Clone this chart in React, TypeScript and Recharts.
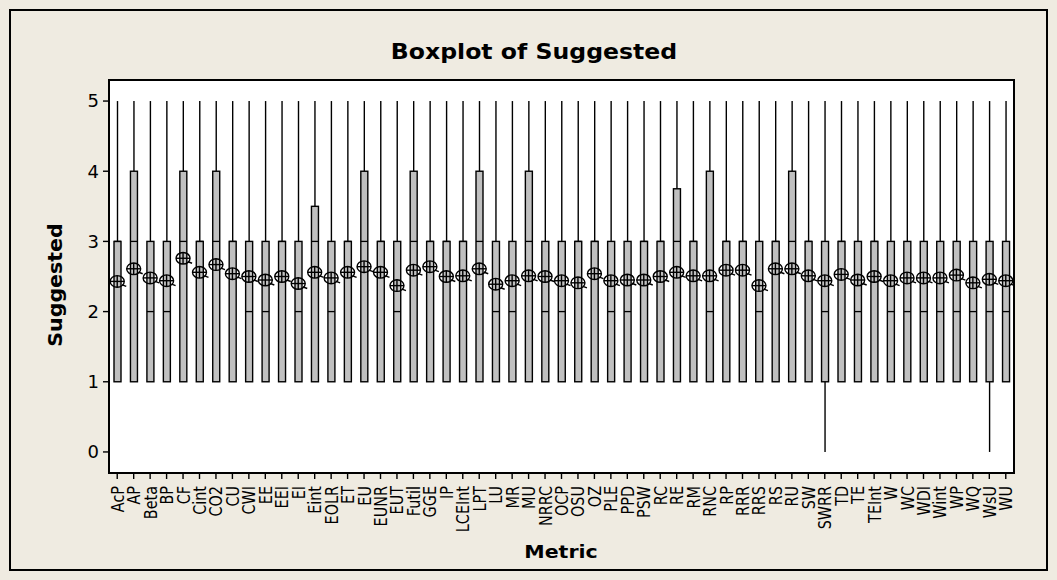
import React from 'react';
import { ComposedChart, Bar, Scatter, XAxis, YAxis } from 'recharts';

const metrics = [
  'AcP', 'AP', 'Beta', 'BP', 'CF', 'Cint', 'CO2', 'CU', 'CWI', 'EE', 'EEI', 'EI', 'Eint', 'EOLR',
  'ET', 'EU', 'EUNR', 'EUT', 'Futil', 'GGE', 'IP', 'LCEInt', 'LPT', 'LU', 'MR', 'MU', 'NRRC',
  'OCP', 'OSU', 'OZ', 'PLE', 'PPD', 'PSW', 'RC', 'RE', 'RM', 'RNC', 'RP', 'RRR', 'RRS', 'RS',
  'RU', 'SW', 'SWRR', 'TD', 'TE', 'TEInt', 'W', 'WC', 'WDI', 'Wint', 'WP', 'WQ', 'WsU', 'WU',
];

const whiskerLow = [
  1, 1, 1, 1, 1, 1, 1, 1, 1, 1, 1, 1, 1, 1,
  1, 1, 1, 1, 1, 1, 1, 1, 1, 1, 1, 1, 1,
  1, 1, 1, 1, 1, 1, 1, 1, 1, 1, 1, 1, 1, 1,
  1, 1, 0, 1, 1, 1, 1, 1, 1, 1, 1, 1, 0, 1,
];

const whiskerHigh = [
  5, 5, 5, 5, 5, 5, 5, 5, 5, 5, 5, 5, 5, 5,
  5, 5, 5, 5, 5, 5, 5, 5, 5, 5, 5, 5, 5,
  5, 5, 5, 5, 5, 5, 5, 5, 5, 5, 5, 5, 5, 5,
  5, 5, 5, 5, 5, 5, 5, 5, 5, 5, 5, 5, 5, 5,
];

const q1Values = [
  1, 1, 1, 1, 1, 1, 1, 1, 1, 1, 1, 1, 1, 1,
  1, 1, 1, 1, 1, 1, 1, 1, 1, 1, 1, 1, 1,
  1, 1, 1, 1, 1, 1, 1, 1, 1, 1, 1, 1, 1, 1,
  1, 1, 1, 1, 1, 1, 1, 1, 1, 1, 1, 1, 1, 1,
];

const medianValues = [
  3, 3, 2, 2, 3, 3, 3, 3, 2, 2, 3, 2, 3, 2,
  3, 3, 3, 2, 3, 3, 3, 3, 3, 2, 2, 3, 2,
  2, 3, 3, 2, 2, 3, 3, 3, 3, 2, 3, 3, 2, 3,
  3, 3, 2, 3, 2, 3, 2, 2, 2, 2, 2, 2, 2, 2,
];

const q3Values = [
  3, 4, 3, 3, 4, 3, 4, 3, 3, 3, 3, 3, 3.5, 3,
  3, 4, 3, 3, 4, 3, 3, 3, 4, 3, 3, 4, 3,
  3, 3, 3, 3, 3, 3, 3, 3.75, 3, 4, 3, 3, 3, 3,
  4, 3, 3, 3, 3, 3, 3, 3, 3, 3, 3, 3, 3, 3,
];

const meanValues = [
  2.43, 2.61, 2.48, 2.44, 2.76, 2.56, 2.67, 2.54, 2.5, 2.45, 2.5, 2.4, 2.56, 2.48,
  2.56, 2.64, 2.56, 2.37, 2.59, 2.64, 2.5, 2.51, 2.61, 2.39, 2.44, 2.51, 2.5,
  2.44, 2.41, 2.54, 2.44, 2.45, 2.45, 2.5, 2.56, 2.51, 2.51, 2.59, 2.59, 2.37, 2.61,
  2.61, 2.51, 2.44, 2.53, 2.45, 2.5, 2.44, 2.48, 2.48, 2.48, 2.52, 2.41, 2.46, 2.44,
];

const yTicks = [0, 1, 2, 3, 4, 5];

const data = metrics.map((metric, i) => ({
  metric,
  whisker: [whiskerLow[i], whiskerHigh[i]],
  q1: q1Values[i],
  median: medianValues[i],
  q3: q3Values[i],
  mean: meanValues[i],
}));

const FONT = '"DejaVu Sans", Verdana, sans-serif';
const BG = '#efebe1';

// draws whiskers + box inside the range bar that spans low..high whisker
const BoxShape = (props: any) => {
  const { x, y, width, height, payload } = props;
  const [lo, hi] = payload.whisker;
  const ppu = height / (hi - lo);
  const py = (v: number) => y + (hi - v) * ppu;
  const cx = x + width / 2;
  return (
    <g>
      <line x1={cx} x2={cx} y1={py(hi)} y2={py(payload.q3)} stroke="#000" strokeWidth={1.4} />
      <line x1={cx} x2={cx} y1={py(payload.q1)} y2={py(lo)} stroke="#000" strokeWidth={1.4} />
      <rect
        x={x}
        y={py(payload.q3)}
        width={width}
        height={py(payload.q1) - py(payload.q3)}
        fill="#c0c0c0"
        stroke="#000"
        strokeWidth={1.4}
      />
      <line x1={x} x2={x + width} y1={py(payload.median)} y2={py(payload.median)} stroke="#000" strokeWidth={1.3} />
    </g>
  );
};

const MeanSymbol = (props: any) => {
  const { cx, cy } = props;
  return (
    <g stroke="#000" strokeWidth={1.4} fill="none">
      <ellipse cx={cx} cy={cy} rx={7} ry={5.8} />
      <line x1={cx - 7} x2={cx + 7} y1={cy} y2={cy} />
      <line x1={cx} x2={cx} y1={cy - 5.8} y2={cy + 5.8} />
      <line x1={cx + 5} x2={cx + 9} y1={cy + 3.5} y2={cy + 5} />
    </g>
  );
};

const MetricTick = (props: any) => {
  const { x, y, payload } = props;
  return (
    <text
      x={0}
      y={0}
      dy="0.36em"
      textAnchor="end"
      transform={`translate(${x},${y + 5}) rotate(-90) scale(0.8,1)`}
      fontFamily={FONT}
      fontSize={18}
      fill="#000"
    >
      {payload.value}
    </text>
  );
};

export default function App() {
  return (
    <div style={{ position: 'absolute', left: 0, top: 0, width: 1057, height: 580, background: BG }}>
      <div
        style={{
          position: 'absolute',
          left: 9,
          top: 9,
          width: 1039,
          height: 562,
          border: '2px solid #000',
          boxSizing: 'border-box',
        }}
      />
      <div
        style={{
          position: 'absolute',
          left: 108,
          top: 79,
          width: 907,
          height: 395,
          border: '2px solid #000',
          background: '#fff',
          boxSizing: 'border-box',
        }}
      />
      <div
        style={{
          position: 'absolute',
          left: 534,
          top: 52,
          transform: 'translate(-50%, -50%) scaleX(1.15)',
          fontFamily: FONT,
          fontWeight: 'bold',
          fontSize: 20.5,
          whiteSpace: 'nowrap',
        }}
      >
        Boxplot of Suggested
      </div>
      <div
        style={{
          position: 'absolute',
          left: 55,
          top: 285,
          transform: 'translate(-50%, -50%) rotate(-90deg) scaleX(1.08)',
          fontFamily: FONT,
          fontWeight: 'bold',
          fontSize: 19,
          whiteSpace: 'nowrap',
        }}
      >
        Suggested
      </div>
      <div
        style={{
          position: 'absolute',
          left: 561,
          top: 551,
          transform: 'translate(-50%, -50%) scaleX(1.14)',
          fontFamily: FONT,
          fontWeight: 'bold',
          fontSize: 18,
          whiteSpace: 'nowrap',
        }}
      >
        Metric
      </div>
      <div style={{ position: 'absolute', left: 0, top: 0 }}>
        <ComposedChart
          width={1057}
          height={580}
          data={data}
          margin={{ top: 80, right: 43, bottom: 27, left: 49 }}
        >
          <XAxis
            dataKey="metric"
            type="category"
            interval={0}
            axisLine={false}
            tickLine={{ stroke: '#000', strokeWidth: 1.4 }}
            tickSize={6}
            height={80}
            tick={<MetricTick />}
          />
          <YAxis
            type="number"
            domain={[-0.3, 5.3]}
            allowDataOverflow
            ticks={yTicks}
            axisLine={false}
            tickLine={{ stroke: '#000', strokeWidth: 1.4 }}
            tickSize={6}
            width={60}
            tick={{ fill: '#000', fontSize: 18, fontFamily: FONT, dx: -2 }}
          />
          <Bar dataKey="whisker" barSize={7} shape={<BoxShape />} isAnimationActive={false} />
          <Scatter dataKey="mean" shape={<MeanSymbol />} isAnimationActive={false} />
        </ComposedChart>
      </div>
    </div>
  );
}
